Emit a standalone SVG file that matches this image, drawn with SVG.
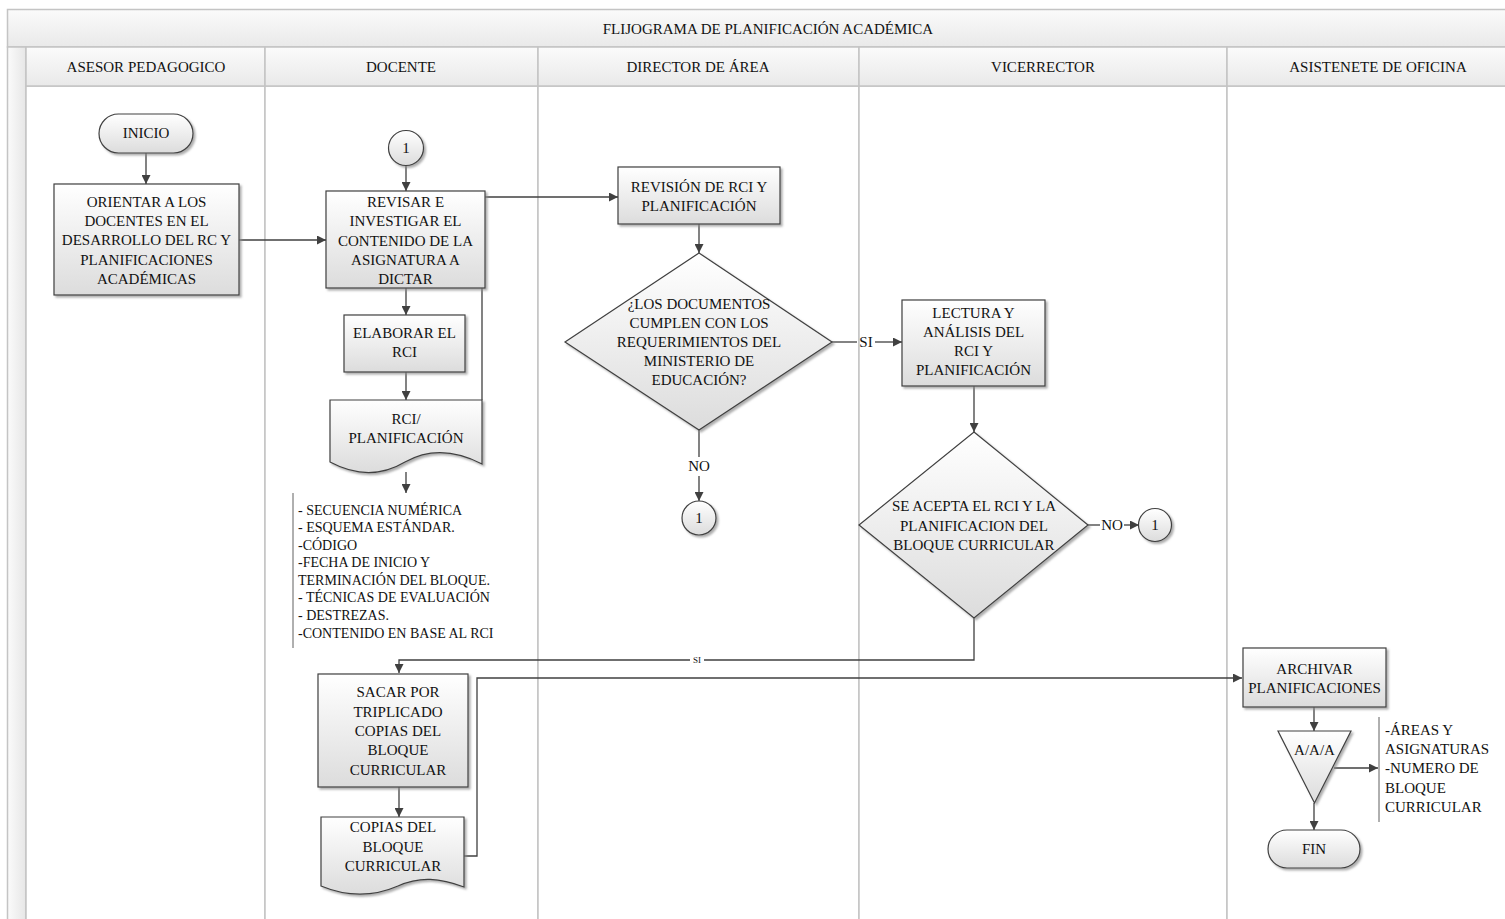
<svg xmlns="http://www.w3.org/2000/svg" width="1505" height="919" viewBox="0 0 1505 919">
<defs>
<linearGradient id="gNode" x1="0" y1="0" x2="0" y2="1"><stop offset="0" stop-color="#ffffff"/><stop offset="1" stop-color="#dcdcdc"/></linearGradient>
<linearGradient id="gHead" x1="0" y1="0" x2="0" y2="1"><stop offset="0" stop-color="#fbfbfb"/><stop offset="1" stop-color="#e9e9e9"/></linearGradient>
<linearGradient id="gStrip" x1="0" y1="0" x2="1" y2="0"><stop offset="0" stop-color="#fbfbfb"/><stop offset="1" stop-color="#e6e6e6"/></linearGradient>
<filter id="sh" x="-10%" y="-10%" width="125%" height="125%"><feDropShadow dx="2" dy="2" stdDeviation="1.2" flood-color="#8a8a8a" flood-opacity="0.7"/></filter>
<marker id="ar" viewBox="0 0 10 10" refX="10" refY="5" markerWidth="9" markerHeight="9" markerUnits="userSpaceOnUse" orient="auto"><path d="M0,0 L10,5 L0,10 z" fill="#404040"/></marker>
<style>
.lane{fill:#ffffff;stroke:#c4c4c4;stroke-width:1.5}
.head{fill:url(#gHead);stroke:#c4c4c4;stroke-width:1.5}
.node{fill:url(#gNode);stroke:#404040;stroke-width:1.2;filter:url(#sh)}
.t{font-family:"Liberation Serif","Times New Roman",serif;font-size:15px;fill:#111;text-anchor:middle;dominant-baseline:central}
.tl{font-family:"Liberation Serif","Times New Roman",serif;font-size:14px;fill:#111;text-anchor:start;dominant-baseline:central}
.tr{font-family:"Liberation Serif","Times New Roman",serif;font-size:15px;fill:#111;text-anchor:start;dominant-baseline:central}
.h{font-family:"Liberation Serif","Times New Roman",serif;font-size:15px;fill:#111;text-anchor:middle;dominant-baseline:central}
.c{fill:none;stroke:#404040;stroke-width:1.3}
.br{fill:none;stroke:#606060;stroke-width:1}
.lbl{font-family:"Liberation Serif","Times New Roman",serif;font-size:15px;fill:#111;text-anchor:middle;dominant-baseline:central}
.lbls{font-family:"Liberation Serif","Times New Roman",serif;font-size:9px;fill:#111;text-anchor:middle;dominant-baseline:central}
</style>
</defs>
<rect x="0" y="0" width="1505" height="919" fill="#ffffff"/>

<g id="pool">
<rect class="head" x="7.5" y="9.5" width="1530" height="37.5"/>
<text class="h" x="768" y="29">FLIJOGRAMA DE PLANIFICACIÓN ACADÉMICA</text>
<rect x="7.5" y="47" width="18.5" height="880" fill="url(#gStrip)" stroke="#c4c4c4" stroke-width="1.5"/>
<rect class="lane" x="26" y="86" width="239" height="840"/>
<rect class="lane" x="265" y="86" width="273" height="840"/>
<rect class="lane" x="538" y="86" width="321" height="840"/>
<rect class="lane" x="859" y="86" width="368" height="840"/>
<rect class="lane" x="1227" y="86" width="302" height="840"/>
<rect class="head" x="26" y="47" width="239" height="39"/>
<rect class="head" x="265" y="47" width="273" height="39"/>
<rect class="head" x="538" y="47" width="321" height="39"/>
<rect class="head" x="859" y="47" width="368" height="39"/>
<rect class="head" x="1227" y="47" width="302" height="39"/>
<text class="h" x="146" y="67">ASESOR PEDAGOGICO</text>
<text class="h" x="401" y="67">DOCENTE</text>
<text class="h" x="698" y="67">DIRECTOR DE ÁREA</text>
<text class="h" x="1043" y="67">VICERRECTOR</text>
<text class="h" x="1378" y="67">ASISTENETE DE OFICINA</text>
</g>

<g id="connectors">
<line class="c" x1="146" y1="153" x2="146" y2="184" marker-end="url(#ar)"/>
<line class="c" x1="239" y1="240" x2="326" y2="240" marker-end="url(#ar)"/>
<line class="c" x1="406" y1="166" x2="406" y2="191" marker-end="url(#ar)"/>
<line class="c" x1="485" y1="197" x2="618" y2="197" marker-end="url(#ar)"/>
<line class="c" x1="406" y1="288" x2="406" y2="315" marker-end="url(#ar)"/>
<line class="c" x1="482" y1="288" x2="482" y2="400"/>
<line class="c" x1="406" y1="372" x2="406" y2="400" marker-end="url(#ar)"/>
<line class="c" x1="406" y1="472" x2="406" y2="493" marker-end="url(#ar)"/>
<line class="c" x1="699" y1="224" x2="699" y2="253" marker-end="url(#ar)"/>
<line class="c" x1="699" y1="430" x2="699" y2="457"/>
<line class="c" x1="699" y1="476" x2="699" y2="501" marker-end="url(#ar)"/>
<text class="lbl" x="699" y="466">NO</text>
<line class="c" x1="832" y1="342" x2="857" y2="342"/>
<line class="c" x1="875" y1="342" x2="902" y2="342" marker-end="url(#ar)"/>
<text class="lbl" x="866" y="342">SI</text>
<line class="c" x1="974" y1="386" x2="974" y2="432" marker-end="url(#ar)"/>
<line class="c" x1="1088" y1="525" x2="1100" y2="525"/>
<line class="c" x1="1124" y1="525" x2="1139" y2="525" marker-end="url(#ar)"/>
<text class="lbl" x="1112" y="525">NO</text>
<path class="c" d="M974,618 V660 H399 V673" marker-end="url(#ar)"/>
<rect x="690" y="655" width="14" height="10" fill="#ffffff"/>
<text class="lbls" x="697" y="660">SI</text>
<line class="c" x1="399" y1="787" x2="399" y2="817" marker-end="url(#ar)"/>
<path class="c" d="M464,856 H477 V678 H1242" marker-end="url(#ar)"/>
<line class="c" x1="1314" y1="707" x2="1314" y2="731" marker-end="url(#ar)"/>
<line class="c" x1="1334" y1="768" x2="1378" y2="768" marker-end="url(#ar)"/>
<line class="c" x1="1314" y1="803" x2="1314" y2="830" marker-end="url(#ar)"/>
</g>

<g id="inicio">
<rect class="node" x="99" y="114" width="94" height="39" rx="19.5"/>
<text class="t" x="146" y="133">INICIO</text>
</g>

<g id="orientar">
<rect class="node" x="54" y="184" width="185" height="111"/>
<text class="t" x="146.5" y="202">ORIENTAR A LOS</text>
<text class="t" x="146.5" y="221">DOCENTES EN EL</text>
<text class="t" x="146.5" y="240">DESARROLLO DEL RC Y</text>
<text class="t" x="146.5" y="260">PLANIFICACIONES</text>
<text class="t" x="146.5" y="279">ACADÉMICAS</text>
</g>

<g id="conector1a">
<circle class="node" cx="406" cy="148" r="17.5"/>
<text class="t" x="406" y="148">1</text>
</g>

<g id="revisar">
<rect class="node" x="326" y="191" width="159" height="97"/>
<text class="t" x="405.5" y="202">REVISAR E</text>
<text class="t" x="405.5" y="221">INVESTIGAR EL</text>
<text class="t" x="405.5" y="241">CONTENIDO DE LA</text>
<text class="t" x="405.5" y="260">ASIGNATURA A</text>
<text class="t" x="405.5" y="279">DICTAR</text>
</g>

<g id="elaborar">
<rect class="node" x="344" y="315" width="121" height="57"/>
<text class="t" x="404.5" y="333">ELABORAR EL</text>
<text class="t" x="404.5" y="352">RCI</text>
</g>

<g id="rci-doc">
<path class="node" d="M330,400 H482 V464 C455,450 430,448 405,462 C385,474 360,478 330,462 Z"/>
<text class="t" x="406" y="419">RCI/</text>
<text class="t" x="406" y="438">PLANIFICACIÓN</text>
</g>

<g id="nota-rci">
<line class="br" x1="293" y1="493" x2="293" y2="648"/>
<text class="tl" x="298" y="510">- SECUENCIA NUMÉRICA</text>
<text class="tl" x="298" y="527">- ESQUEMA ESTÁNDAR.</text>
<text class="tl" x="298" y="545">-CÓDIGO</text>
<text class="tl" x="298" y="562">-FECHA DE INICIO Y</text>
<text class="tl" x="298" y="580">TERMINACIÓN DEL BLOQUE.</text>
<text class="tl" x="298" y="597">- TÉCNICAS DE EVALUACIÓN</text>
<text class="tl" x="298" y="615">- DESTREZAS.</text>
<text class="tl" x="298" y="633">-CONTENIDO EN BASE AL RCI</text>
</g>

<g id="revision">
<rect class="node" x="618" y="167" width="162" height="57"/>
<text class="t" x="699" y="187">REVISIÓN DE RCI Y</text>
<text class="t" x="699" y="206">PLANIFICACIÓN</text>
</g>

<g id="decision1">
<path class="node" d="M699,253 L832,342 L699,430 L565,342 Z"/>
<text class="t" x="699" y="304">¿LOS DOCUMENTOS</text>
<text class="t" x="699" y="323">CUMPLEN CON LOS</text>
<text class="t" x="699" y="342">REQUERIMIENTOS DEL</text>
<text class="t" x="699" y="361">MINISTERIO DE</text>
<text class="t" x="699" y="380">EDUCACIÓN?</text>
</g>

<g id="conector1b">
<circle class="node" cx="699" cy="518" r="17"/>
<text class="t" x="699" y="518">1</text>
</g>

<g id="lectura">
<rect class="node" x="902" y="300" width="143" height="86"/>
<text class="t" x="973.5" y="313">LECTURA Y</text>
<text class="t" x="973.5" y="332">ANÁLISIS  DEL</text>
<text class="t" x="973.5" y="351">RCI Y</text>
<text class="t" x="973.5" y="370">PLANIFICACIÓN</text>
</g>

<g id="decision2">
<path class="node" d="M974,432 L1088,525 L974,618 L859,525 Z"/>
<text class="t" x="974" y="506">SE ACEPTA EL RCI Y LA</text>
<text class="t" x="974" y="526">PLANIFICACION DEL</text>
<text class="t" x="974" y="545">BLOQUE CURRICULAR</text>
</g>

<g id="conector1c">
<circle class="node" cx="1155" cy="525" r="16.5"/>
<text class="t" x="1155" y="525">1</text>
</g>

<g id="sacar">
<rect class="node" x="318" y="674" width="150" height="113"/>
<text class="t" x="398" y="692">SACAR POR</text>
<text class="t" x="398" y="712">TRIPLICADO</text>
<text class="t" x="398" y="731">COPIAS DEL</text>
<text class="t" x="398" y="750">BLOQUE</text>
<text class="t" x="398" y="770">CURRICULAR</text>
</g>

<g id="copias-doc">
<path class="node" d="M321,817 H464 V887 C440,878 420,876 398,886 C375,896 350,898 321,886 Z"/>
<text class="t" x="393" y="827">COPIAS DEL</text>
<text class="t" x="393" y="847">BLOQUE</text>
<text class="t" x="393" y="866">CURRICULAR</text>
</g>

<g id="archivar">
<rect class="node" x="1243" y="648" width="143" height="59"/>
<text class="t" x="1314.5" y="669">ARCHIVAR</text>
<text class="t" x="1314.5" y="688">PLANIFICACIONES</text>
</g>

<g id="archivo">
<path class="node" d="M1278,731 L1351,731 L1314.5,803 Z"/>
<text class="t" x="1314.5" y="750">A/A/A</text>
</g>

<g id="nota-archivo">
<line class="br" x1="1379" y1="717" x2="1379" y2="822"/>
<text class="tr" x="1385" y="730">-ÁREAS Y</text>
<text class="tr" x="1385" y="749">ASIGNATURAS</text>
<text class="tr" x="1385" y="768">-NUMERO DE</text>
<text class="tr" x="1385" y="788">BLOQUE</text>
<text class="tr" x="1385" y="807">CURRICULAR</text>
</g>

<g id="fin">
<rect class="node" x="1268" y="830" width="92" height="38" rx="19"/>
<text class="t" x="1314" y="849">FIN</text>
</g>
</svg>
